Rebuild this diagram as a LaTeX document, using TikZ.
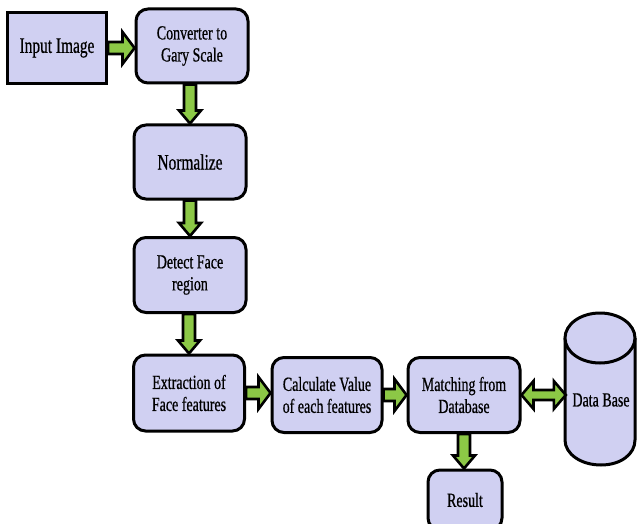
\documentclass[tikz,border=0pt]{standalone}
\usepackage{fontspec}
\setmainfont[FakeStretch=0.7,FakeBold=0.6]{Liberation Serif}
\usetikzlibrary{calc}
\definecolor{boxfill}{RGB}{208,208,242}
\definecolor{arrowgreen}{RGB}{140,200,70}

% block arrows between two node anchors
\newcommand{\harrow}[2]{%
  \filldraw[blk] let \p1=(#1), \p2=(#2) in
    (\x1,\y1+6) -- (\x2-12,\y1+6) -- (\x2-12,\y1+16) -- (\x2,\y1) --
    (\x2-12,\y1-16) -- (\x2-12,\y1-6) -- (\x1,\y1-6) -- cycle;}
\newcommand{\varrow}[2]{%
  \filldraw[blk] let \p1=(#1), \p2=(#2) in
    (\x1-6,\y1) -- (\x1-6,\y2+13) -- (\x1-11,\y2+13) -- (\x1,\y2) --
    (\x1+11,\y2+13) -- (\x1+6,\y2+13) -- (\x1+6,\y1) -- cycle;}
\newcommand{\darrow}[2]{%
  \filldraw[blk] let \p1=(#1), \p2=(#2) in
    (\x1,\y1) -- (\x1+12,\y1+14) -- (\x1+12,\y1+5) -- (\x2-12,\y1+5) --
    (\x2-12,\y1+14) -- (\x2,\y1) -- (\x2-12,\y1-14) -- (\x2-12,\y1-5) --
    (\x1+12,\y1-5) -- (\x1+12,\y1-14) -- cycle;}

\begin{document}
\begin{tikzpicture}[x=1pt,y=-1pt,
  box/.style={draw, line width=3, rounded corners=12, fill=boxfill,
    align=center, inner sep=2},
  big/.style={font=\fontsize{22}{26}\selectfont},
  small/.style={font=\fontsize{20}{22}\selectfont},
  blk/.style={draw=black, fill=arrowgreen, line width=2.6, line join=miter}]
\useasboundingbox (0,0) rectangle (637,524);
\fill[white] (0,0) rectangle (637,524);

\node[box, big, rounded corners=0, minimum width=99, minimum height=71] (in) at (57,48) {Input Image};
\node[box, small, minimum width=112, minimum height=74] (conv) at (192,46) {Converter to\\Gary Scale};
\node[box, big, minimum width=112, minimum height=74] (norm) at (190,162) {Normalize};
\node[box, small, minimum width=112, minimum height=75] (det) at (190,275) {Detect Face\\region};
\node[box, small, minimum width=111, minimum height=76] (ext) at (189,393) {Extraction of\\Face features};
\node[box, small, minimum width=110, minimum height=75] (calc) at (327,395) {Calculate Value\\of each features};
\node[box, small, minimum width=112, minimum height=75] (match) at (464,395) {Matching from\\Database};
\node[box, small, minimum width=74, minimum height=60] (res) at (465,500) {Result};

% data base cylinder
\filldraw[fill=boxfill, line width=3] (565,338) -- (565,440)
  .. controls (565,454) and (581,465) .. (601,465)
  .. controls (621,465) and (635,454) .. (635,440) -- (635,338);
\filldraw[fill=boxfill, line width=3] (600,338) ellipse [x radius=35, y radius=25];
\node[small, minimum width=70, minimum height=100] (db) at (601,400) {Data Base};

\harrow{in.east}{conv.west}
\varrow{norm.north |- conv.south}{norm.north}
\varrow{det.north |- norm.south}{det.north}
\varrow{ext.north |- det.south}{ext.north}
\harrow{ext.east}{calc.west}
\harrow{calc.east}{match.west}
\varrow{match.south}{res.north}
\darrow{match.east}{db.west}
\end{tikzpicture}
\end{document}
